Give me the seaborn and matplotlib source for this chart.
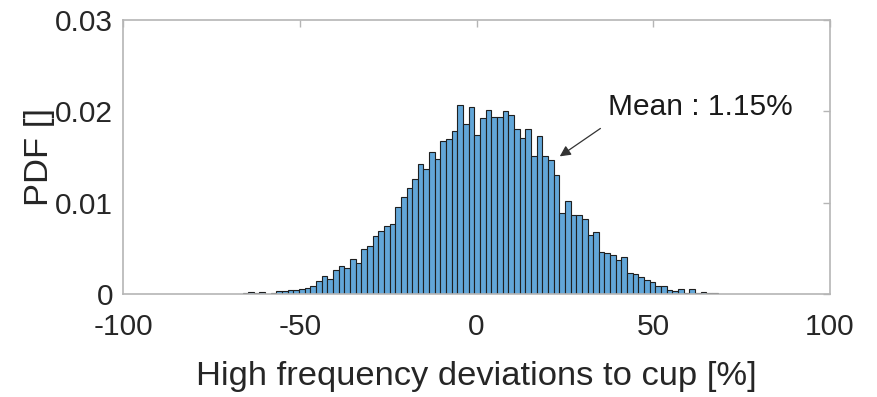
import numpy as np
import pandas as pd
import seaborn as sns
import matplotlib
matplotlib.use("Agg")
import matplotlib.pyplot as plt

# histogram bin heights (PDF), bins of width 1.6 starting at -66.2
bin_start = -66.2
bin_width = 1.6
pdf_values = [
    0.00015, 0.0002, 0.0001, 0.0002, 0.00005, 0.00015, 0.0003, 0.0003,
    0.00044, 0.00044, 0.0005, 0.00066, 0.0009, 0.0014, 0.0020, 0.0016,
    0.0026, 0.0031, 0.0028, 0.0038, 0.0034, 0.0049, 0.0053, 0.0063,
    0.0069, 0.0075, 0.0077, 0.0095, 0.0106, 0.0116, 0.0126, 0.0142,
    0.0137, 0.0155, 0.0148, 0.0167, 0.0170, 0.0178, 0.0207, 0.0186,
    0.0205, 0.0174, 0.0193, 0.0201, 0.0194, 0.0194, 0.0200, 0.0196,
    0.0181, 0.0171, 0.0181, 0.0151, 0.0173, 0.0151, 0.0147, 0.0130,
    0.0089, 0.0102, 0.0086, 0.0087, 0.0082, 0.0065, 0.0068, 0.0046,
    0.0045, 0.0043, 0.0037, 0.0040, 0.0023, 0.0022, 0.0019, 0.0015,
    0.0013, 0.0009, 0.0009, 0.00044, 0.0003, 0.0006, 0.00015, 0.0005,
    0.00015, 0.00025, 0.0001, 0.00007,
]
x_ticks = [-100, -50, 0, 50, 100]
y_ticks = [0, 0.01, 0.02, 0.03]
y_ticklabels = ["0", "0.01", "0.02", "0.03"]
mean_label = "Mean : 1.15%"

sns.set_theme(style="white")
plt.rcParams["font.family"] = ["Liberation Sans", "DejaVu Sans"]

edges = bin_start + bin_width * np.arange(len(pdf_values) + 1)
centers = (edges[:-1] + edges[1:]) / 2
df = pd.DataFrame({"dev": centers, "pdf": pdf_values})

fig = plt.figure(figsize=(8.77, 3.97), dpi=100)
ax = fig.add_axes([0.1403, 0.2594, 0.8061, 0.6902])

sns.histplot(data=df, x="dev", weights="pdf", bins=edges.tolist(), stat="count",
             ax=ax, color="#62a6d8", alpha=1.0, edgecolor="#1f1f1f", linewidth=0.8)

ax.set_xlim(-100, 100)
ax.set_ylim(0, 0.03)
ax.set_xticks(x_ticks)
ax.set_xticklabels([str(t) for t in x_ticks])
ax.set_yticks(y_ticks)
ax.set_yticklabels(y_ticklabels)

grey = "#b5b5b5"
for s in ax.spines.values():
    s.set_color(grey)
    s.set_linewidth(1.2)
    s.set_visible(True)
ax.tick_params(axis="both", direction="in", length=5, width=1, color=grey,
               labelsize=21.5, labelcolor="#262626", top=True, right=True)
ax.tick_params(axis="x", pad=14)
ax.tick_params(axis="y", pad=7)

ax.set_xlabel("High frequency deviations to cup [%]", fontsize=24.8,
              color="#262626", labelpad=14)
ax.set_ylabel("PDF []", fontsize=24.8, color="#262626", labelpad=0.5)

ax.annotate("", xy=(22.9, 0.0149), xytext=(35.7, 0.0183),
            arrowprops=dict(arrowstyle="-|>", color="#333333", lw=0.9,
                            mutation_scale=16))
ax.text(37.1, 0.0205, mean_label, fontsize=21.5, color="#1a1a1a",
        ha="left", va="center")

fig.savefig("out.png", dpi=100)
